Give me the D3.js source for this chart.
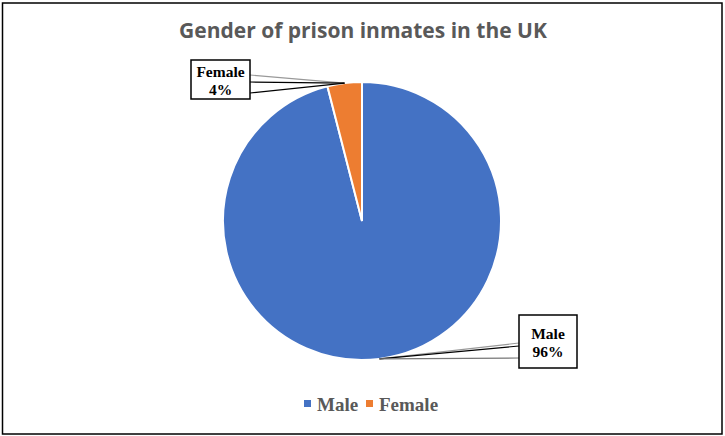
<!DOCTYPE html>
<html><head><meta charset="utf-8">
<script src="https://cdn.jsdelivr.net/npm/d3@7"></script>
<style>body{margin:0;background:#fff}svg{display:block}</style>
</head><body><svg id="c" width="725" height="436"></svg>
<script>
const categories = ["Male", "Female"];
const values = [96, 4];
const colors = ["#4472C4", "#ED7D31"];
const title = "Gender of prison inmates in the UK";

const svg = d3.select("#c");
svg.append("rect").attr("x", 2.5).attr("y", 3).attr("width", 719.5).attr("height", 431)
  .attr("fill", "#fff").attr("stroke", "#000").attr("stroke-width", 1.5);

svg.append("text").attr("x", 363).attr("y", 38).attr("text-anchor", "middle")
  .attr("font-family", "'Open Sans', sans-serif").attr("font-weight", "bold")
  .attr("font-size", 21).attr("fill", "#595959").text(title);

const cx = 362, cy = 221, r = 139;
const data = categories.map((c, i) => ({cat: c, v: values[i], col: colors[i]}));
const pie = d3.pie().value(d => d.v).sort(null);
const arcs = pie(data);
const arc = d3.arc().innerRadius(0).outerRadius(r);
const g = svg.append("g").attr("transform", `translate(${cx},${cy})`);
g.selectAll("path").data(arcs).join("path").attr("d", arc)
  .attr("fill", d => d.data.col).attr("stroke", "#fff").attr("stroke-width", 2);

// labels
const boxes = {Male: {x: 519, y: 315, w: 58, h: 53}, Female: {x: 191, y: 60, w: 59, h: 39}};
arcs.forEach(a => {
  const m = (a.startAngle + a.endAngle) / 2;
  const px = cx + r * Math.sin(m), py = cy - r * Math.cos(m);
  const b = boxes[a.data.cat];
  const pct = Math.round(a.data.v / d3.sum(values) * 100) + "%";
  const ex = px < b.x ? b.x : b.x + b.w;
  let pts;
  if (a.data.cat === "Male") pts = [[ex, b.y + 28, "#999"], [ex, b.y + 31, "#000"], [ex, b.y + 43, "#777"]];
  else pts = [[ex, b.y + 15, "#999"], [ex, b.y + 22, "#000"], [ex, b.y + 33, "#000"]];
  pts.forEach(p => svg.append("line").attr("x1", p[0]).attr("y1", p[1]).attr("x2", px).attr("y2", py)
    .attr("stroke", p[2]).attr("stroke-width", 1.2));
  svg.append("rect").attr("x", b.x).attr("y", b.y).attr("width", b.w).attr("height", b.h)
    .attr("fill", "#fff").attr("stroke", "#000").attr("stroke-width", 1.5);
  const t = svg.append("text").attr("text-anchor", "middle")
    .attr("font-family", "'Liberation Serif', 'Times New Roman', serif").attr("font-weight", "bold")
    .attr("font-size", 15.5).attr("fill", "#000");
  const mx = b.x + b.w / 2, my = b.y + b.h / 2;
  t.append("tspan").attr("x", mx).attr("y", my - 3).text(a.data.cat);
  t.append("tspan").attr("x", mx).attr("y", my + 15).text(pct);
});

// legend
const leg = svg.append("g");
const items = [{x: 304}, {x: 366}];
data.forEach((d, i) => {
  leg.append("rect").attr("x", items[i].x).attr("y", 400).attr("width", 7).attr("height", 7).attr("fill", d.col);
  leg.append("text").attr("x", items[i].x + 13).attr("y", 411)
    .attr("font-family", "'Liberation Serif', 'Times New Roman', serif").attr("font-weight", "bold")
    .attr("font-size", 19).attr("fill", "#595959").text(d.cat);
});
</script></body></html>
